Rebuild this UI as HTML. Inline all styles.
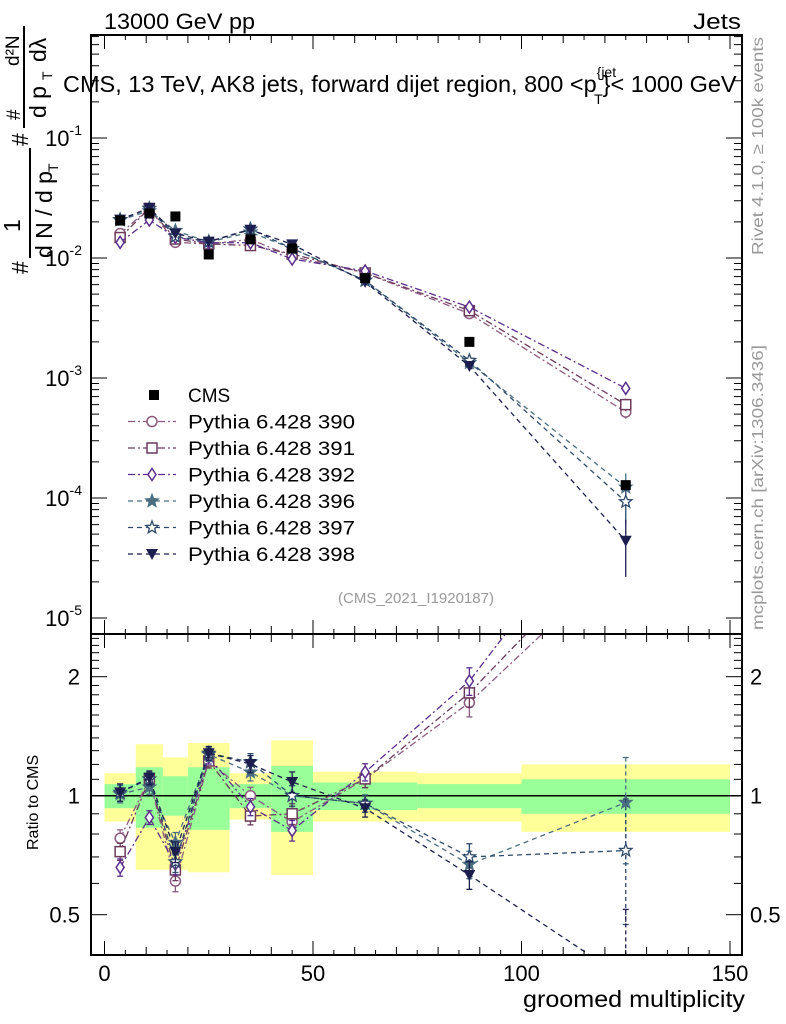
<!DOCTYPE html>
<html><head><meta charset="utf-8"><style>
html,body{margin:0;padding:0;background:#fff;overflow:hidden;width:786px;height:1024px;}
svg{display:block;font-family:"Liberation Sans",sans-serif;}
</style></head><body>
<svg id="c" width="786" height="1024" viewBox="0 0 786 1024" xmlns="http://www.w3.org/2000/svg">
<text x="104" y="29" font-size="22" textLength="151" lengthAdjust="spacingAndGlyphs">13000 GeV pp</text>
<text x="693" y="29" font-size="22" textLength="48" lengthAdjust="spacingAndGlyphs">Jets</text>
<text x="63" y="92" font-size="23.5">CMS, 13 TeV, AK8 jets, forward dijet region, 800 &lt;p<tspan font-size="14" dy="-15">{jet</tspan><tspan font-size="14" dx="-22" dy="27">T</tspan><tspan dy="-12">}&lt; 1000 GeV</tspan></text>
<text transform="translate(763,255) rotate(-90)" font-size="16" fill="#999" textLength="218" lengthAdjust="spacingAndGlyphs">Rivet 4.1.0, ≥ 100k events</text>
<text transform="translate(763,630) rotate(-90)" font-size="16" fill="#999" textLength="285" lengthAdjust="spacingAndGlyphs">mcplots.cern.ch [arXiv:1306.3436]</text>
<g transform="translate(28,274) rotate(-90)" font-size="23">
<text x="0" y="0">#</text>
<text x="42" y="-8">1</text>
<line x1="16" y1="2" x2="126" y2="2" stroke="#000" stroke-width="2"/>
<text x="16" y="24">d N / d p</text><text x="102" y="30" font-size="14">T</text>
<text x="128" y="0">#</text>
<text x="154" y="-8" font-size="19">#</text>
<line x1="146" y1="-4" x2="248" y2="-4" stroke="#000" stroke-width="2"/>
<text x="156" y="18">d p</text><text x="194" y="24" font-size="14">T</text><text x="212" y="18">dλ</text>
<text x="208" y="-9" font-size="19">d²N</text>
</g>
<text transform="translate(38,850) rotate(-90)" font-size="16">Ratio to CMS</text>
<text x="523" y="1007" font-size="23" textLength="222" lengthAdjust="spacingAndGlyphs">groomed multiplicity</text>
<text x="416" y="603" font-size="15" fill="#999" text-anchor="middle">(CMS_2021_I1920187)</text>
</svg>
<script>
const edges=[0,7.5,14,20,30,40,50,75,100,150];
const centers=[3.75,10.75,17,25,35,45,62.5,87.5,125];
const cms=[0.0205,0.0235,0.0222,0.0107,0.0143,0.0120,0.0068,0.0020,0.000128];
const p390=[0.0160,0.0259,0.0135,0.0131,0.0143,0.0103,0.0075,0.00344,0.00052];
const p391=[0.0148,0.0259,0.0144,0.0131,0.0127,0.0108,0.0075,0.00364,0.00060];
const p392=[0.0135,0.0207,0.0149,0.0134,0.0134,0.0098,0.0078,0.0039,0.00082];
const p396=[0.0207,0.0247,0.0169,0.0136,0.0164,0.0120,0.0065,0.00134,0.000123];
const p397=[0.0209,0.0259,0.0151,0.0137,0.0174,0.0120,0.0065,0.0014,0.000093];
const p398=[0.0209,0.0261,0.0160,0.0137,0.0172,0.0130,0.00632,0.00126,0.000044];
const relErr=[0.05,0.04,0.06,0.04,0.05,0.06,0.05,0.08,0.12];
const lastErr=[0.12,0.12,0.1,0.3,0.35,0.5];
const greenUp=[1.07,1.18,1.12,1.18,1.07,1.19,1.08,1.07,1.10];
const greenDn=[0.93,0.83,0.89,0.82,0.93,0.81,0.92,0.93,0.90];
const yellowUp=[1.14,1.35,1.25,1.36,1.14,1.38,1.15,1.14,1.20];
const yellowDn=[0.86,0.65,0.65,0.64,0.87,0.63,0.86,0.86,0.81];
const xTicks=[0,50,100,150];
const yTickExp=[-1,-2,-3,-4,-5];
const ratioTicks=[0.5,1,2];
const names=['Pythia 6.428 390','Pythia 6.428 391','Pythia 6.428 392','Pythia 6.428 396','Pythia 6.428 397','Pythia 6.428 398'];

const NS='http://www.w3.org/2000/svg';
const svg=document.getElementById('c');
const L=91,R=742,T1=35,B1=634,T2=634,B2=955;
const X=v=>104.5+v*4.17;
const Y=v=>258-(Math.log10(v)+2)*120;
const RY=v=>795.7-Math.log2(v)*119;
function el(t,a,p){const e=document.createElementNS(NS,t);for(const k in a)e.setAttribute(k,a[k]);(p||svg).appendChild(e);return e;}
const series=[
 {d:p390,c:'#8b5a7e',m:'circle',dash:'7,3,2,3'},
 {d:p391,c:'#6b3a5a',m:'square',dash:'7,3,2,3'},
 {d:p392,c:'#5a2d8c',m:'diamond',dash:'7,3,2,3'},
 {d:p396,c:'#4a6e80',m:'starf',dash:'5,4'},
 {d:p397,c:'#2e4a6a',m:'staro',dash:'5,4'},
 {d:p398,c:'#1c1f4e',m:'tri',dash:'5,4'}];

function marker(g,type,x,y,c){
 let e;
 if(type==='circle')e=el('circle',{cx:x,cy:y,r:5,fill:'#fff',stroke:c,'stroke-width':1.5},g);
 else if(type==='square')e=el('rect',{x:x-5,y:y-5,width:10,height:10,fill:'#fff',stroke:c,'stroke-width':1.5},g);
 else if(type==='diamond')e=el('polygon',{points:`${x},${y-6} ${x+4},${y} ${x},${y+6} ${x-4},${y}`,fill:'#fff',stroke:c,'stroke-width':1.5},g);
 else if(type==='tri')e=el('polygon',{points:`${x-6},${y-5} ${x+6},${y-5} ${x},${y+6}`,fill:c},g);
 else if(type==='sq')e=el('rect',{x:x-5,y:y-5,width:10,height:10,fill:c},g);
 else{let pts=[];for(let i=0;i<10;i++){const r=i%2?2.8:6.5,a=-Math.PI/2+i*Math.PI/5;pts.push((x+r*Math.cos(a)).toFixed(1)+','+(y+r*Math.sin(a)).toFixed(1));}
  e=el('polygon',{points:pts.join(' '),fill:type==='starf'?c:'#fff',stroke:c,'stroke-width':1.3},g);}
 
 
}

const clip=el('clipPath',{id:'rc'});el('rect',{x:L,y:T2,width:R-L,height:B2-T2},clip);
const clip1=el('clipPath',{id:'tc'});el('rect',{x:L,y:T1,width:R-L,height:B1-T1},clip1);
const bands=el('g',{'clip-path':'url(#rc)'});


for(let i=0;i<centers.length;i++){
 const x0=X(edges[i]),x1=X(edges[i+1]);
 const yb=el('rect',{x:x0,y:RY(yellowUp[i]),width:x1-x0,height:RY(yellowDn[i])-RY(yellowUp[i]),fill:'#ffff99'},bands);
 
 
 const gb=el('rect',{x:x0,y:RY(greenUp[i]),width:x1-x0,height:RY(greenDn[i])-RY(greenUp[i]),fill:'#99ff99'},bands);
 
 
}
const one=el('line',{x1:L,x2:R,y1:RY(1),y2:RY(1),stroke:'#000','stroke-width':1.5});



series.forEach((s,k)=>{
 const gt=el('g',{'clip-path':'url(#tc)'});
 
 
 const gr=el('g',{'clip-path':'url(#rc)'});
 
 
 const ptsT=s.d.map((v,i)=>X(centers[i])+','+Y(v));
 el('polyline',{points:ptsT.join(' '),fill:'none',stroke:s.c,'stroke-width':1.3,'stroke-dasharray':s.dash},gt);
 const ptsR=s.d.map((v,i)=>X(centers[i])+','+RY(v/cms[i]));
 el('polyline',{points:ptsR.join(' '),fill:'none',stroke:s.c,'stroke-width':1.3,'stroke-dasharray':s.dash},gr);
 s.d.forEach((v,i)=>{
  const e=i===8?lastErr[k]:relErr[i];const x=X(centers[i]);
  el('line',{x1:x,x2:x,y1:Y(v*(1+e)),y2:Y(v*(1-e)),stroke:s.c,'stroke-width':1.3},gt);
  const r=v/cms[i];
  el('line',{x1:x,x2:x,y1:RY(r*(1+e)),y2:RY(r*(1-e)),stroke:s.c,'stroke-width':1.3,'stroke-dasharray':i===8?'4,3':''},gr);
  [RY(r*(1+e)),RY(r*(1-e))].forEach(yy=>el('line',{x1:x-3,x2:x+3,y1:yy,y2:yy,stroke:s.c,'stroke-width':1.3},gr));
  marker(gt,s.m,x,Y(v),s.c);
  marker(gr,s.m,x,RY(r),s.c);
 });
});
const gc=el('g',{'clip-path':'url(#tc)'});


cms.forEach((v,i)=>marker(gc,'sq',X(centers[i]),Y(v),'#000'));

[[T1,B1],[T2,B2]].forEach(([t,b],pi)=>{
 const f=el('rect',{x:L,y:t,width:R-L,height:b-t,fill:'none',stroke:'#000','stroke-width':2});
 
 
 for(let v=0;v<=150;v+=5){const x=X(v),len=v%50===0?14:(v%10===0?8:5);
  el('line',{x1:x,x2:x,y1:b,y2:b-len,stroke:'#000','stroke-width':1});
  el('line',{x1:x,x2:x,y1:t,y2:t+len,stroke:'#000','stroke-width':1});}
});
xTicks.forEach(v=>{const t=el('text',{x:X(v),y:981,'font-size':22,'text-anchor':'middle'});t.textContent=v;
 
 });
for(let e=-5;e<=-1;e++)for(let m=1;m<10;m++){const v=m*Math.pow(10,e),y=Y(v);if(y<T1||y>B1)continue;
 const len=m===1?16:8;el('line',{x1:L,x2:L+len,y1:y,y2:y,stroke:'#000'});el('line',{x1:R,x2:R-len,y1:y,y2:y,stroke:'#000'});}
yTickExp.forEach(e=>{const t=el('text',{x:82,y:Y(Math.pow(10,e))+8,'font-size':22,'text-anchor':'end'});
 t.innerHTML='10<tspan font-size="14" dy="-11">'+e+'</tspan>';
 
 });
[0.5,0.6,0.7,0.8,0.9,1,1.1,1.2,1.3,1.4,1.5,1.6,1.7,1.8,1.9,2,2.1,2.2,2.3,2.4,2.5].forEach(v=>{const y=RY(v);if(y<T2+2)return;
 const len=[0.5,1,2].includes(v)?16:8;el('line',{x1:L,x2:L+len,y1:y,y2:y,stroke:'#000'});el('line',{x1:R,x2:R-len,y1:y,y2:y,stroke:'#000'});});
ratioTicks.forEach(v=>{
 const t=el('text',{x:80,y:RY(v)+8,'font-size':22,'text-anchor':'end'});t.textContent=v;
 
 
 const t2=el('text',{x:750,y:RY(v)+8,'font-size':22});t2.textContent=v;
 
 
});
const lg=el('g',{});


const ly0=395,ldy=26.5;
marker(lg,'sq',154,ly0,'#000');
let lt=el('text',{x:188,y:ly0+7,'font-size':19},lg);lt.textContent='CMS';
series.forEach((s,k)=>{const y=ly0+ldy*(k+1);
 const en=el('g',{},lg);
 
 
 el('line',{x1:128,x2:176,y1:y,y2:y,stroke:s.c,'stroke-width':1.3,'stroke-dasharray':s.dash},en);
 marker(en,s.m,152,y,s.c);
 const t=el('text',{x:188,y:y+7,'font-size':19,textLength:167,lengthAdjust:'spacingAndGlyphs'},en);t.textContent=names[k];
});
</script>
</body></html>
